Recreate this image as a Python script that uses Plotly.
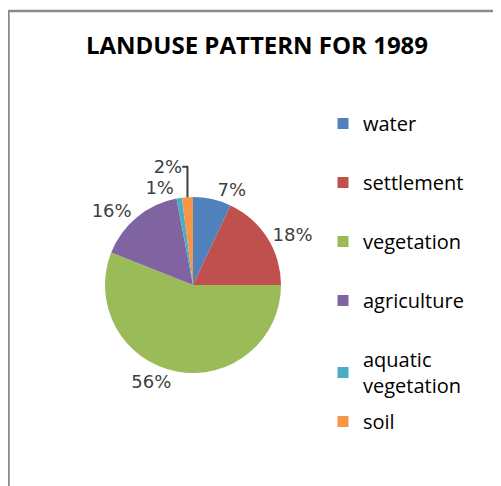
import plotly.graph_objects as go

# data
categories = ["water", "settlement", "vegetation", "agriculture", "aquatic vegetation", "soil"]
legend_labels = ["water", "settlement", "vegetation", "agriculture", "aquatic<br>vegetation", "soil"]
percentages = [7, 18, 56, 16, 1, 2]
colors = ["#4F81BD", "#C0504D", "#9BBB59", "#8064A2", "#4BACC6", "#F79646"]

W, H = 501, 486
# the page puts the plot 8px in from the top-left corner
OFF = 8

fig = go.Figure()

cx, cy, r = 193 - OFF, 285 - OFF, 88
fig.add_trace(go.Pie(
    labels=categories,
    values=percentages,
    sort=False,
    direction="clockwise",
    rotation=0,
    marker=dict(colors=colors, line=dict(width=0)),
    texttemplate="%{value}%",
    textposition="outside",
    textfont=dict(family="DejaVu Sans", size=18, color="#404040"),
    showlegend=False,
    domain=dict(x=[(cx - r) / W, (cx + r) / W], y=[1 - (cy + r) / H, 1 - (cy - r) / H]),
    automargin=False,
))

# legend entries (dummy traces so that the spacing can be set)
for i, (lab, col) in enumerate(zip(legend_labels, colors)):
    fig.add_trace(go.Scatter(
        x=[None], y=[None], mode="markers",
        marker=dict(symbol="square", size=11, color=col),
        name=lab,
        legendgroup=categories[i],
        legend="legend" if i < 4 else "legend2",
    ))

legend_font = dict(family="Open Sans", size=20, color="#000000")

fig.update_layout(
    width=W, height=H,
    margin=dict(l=0, r=0, t=0, b=0),
    paper_bgcolor="white",
    plot_bgcolor="white",
    xaxis=dict(visible=False),
    yaxis=dict(visible=False),
    title=dict(
        text="<b>LANDUSE PATTERN FOR 1989</b>",
        font=dict(family="Open Sans", size=24, color="#000000"),
        x=(257 - OFF) / W, xanchor="center",
        y=1 - (46 - OFF) / H, yanchor="middle",
    ),
    legend=dict(
        x=(323 - OFF) / W, xanchor="left",
        y=1 - 96 / H, yanchor="top",
        font=legend_font,
        tracegroupgap=30,
        bgcolor="rgba(0,0,0,0)",
    ),
    legend2=dict(
        x=(323 - OFF) / W, xanchor="left",
        y=1 - 332 / H, yanchor="top",
        font=legend_font,
        tracegroupgap=7,
        bgcolor="rgba(0,0,0,0)",
    ),
    shapes=[dict(
        type="rect", xref="paper", yref="paper",
        x0=0.5 / W, x1=1.02, y0=-0.02, y1=1 - 3 / H,
        line=dict(color="#8a8a8a", width=2.5),
        fillcolor="rgba(0,0,0,0)",
    )],
)

fig.write_html("out.html")
